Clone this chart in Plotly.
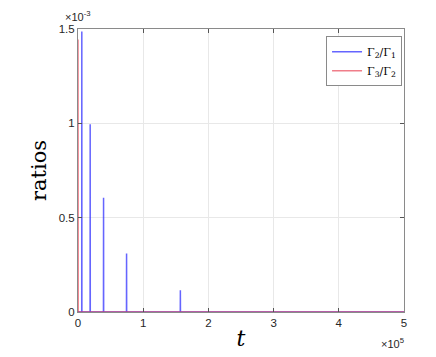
import plotly.graph_objects as go

# Gamma2/Gamma1 spikes (t, ratio)
t_g21 = [0, 5700, 5840, 5980, 18550, 18700, 18850, 39050, 39200, 39350,
         74350, 74500, 74650, 156850, 157000, 157150, 500000]
r_g21 = [0, 0, 1.487e-3, 0, 0, 0.995e-3, 0, 0, 0.605e-3, 0,
         0, 0.31e-3, 0, 0, 0.115e-3, 0, 0]

# Gamma3/Gamma2
t_g32 = [0, 300, 500000]
r_g32 = [1.444e-3, 0, 0]

x_ticks = [0, 1e5, 2e5, 3e5, 4e5, 5e5]
x_labels = ['0', '1', '2', '3', '4', '5']
y_ticks = [0, 0.5e-3, 1e-3, 1.5e-3]
y_labels = ['0', '0.5', '1', '1.5']

fig = go.Figure()
fig.add_trace(go.Scatter(x=t_g21, y=r_g21, mode='lines',
                         name='Γ<sub>2</sub>/Γ<sub>1</sub>',
                         line=dict(color='rgba(50,50,255,0.75)', width=1.5)))
fig.add_trace(go.Scatter(x=t_g32, y=r_g32, mode='lines',
                         name='Γ<sub>3</sub>/Γ<sub>2</sub>',
                         line=dict(color='rgba(230,40,60,0.6)', width=1.5)))

axis_common = dict(showline=True, linecolor='#8a8a8a', linewidth=1, mirror='allticks',
                   ticks='inside', ticklen=4, tickcolor='#555555',
                   showgrid=True, gridcolor='#e8e8e8', gridwidth=1,
                   zeroline=False, automargin=False,
                   tickfont=dict(family='Liberation Sans', size=11.5, color='#262626'))

# page body adds an 8px offset, so the figure is a bit smaller than the window
fig.update_layout(
    width=428, height=349,
    template='simple_white',
    plot_bgcolor='white', paper_bgcolor='white',
    margin=dict(l=70, r=32, t=21, b=45),
    showlegend=True,
    hovermode=False,
    legend=dict(x=0.994, y=0.974, xanchor='right', yanchor='top',
                bordercolor='#8a8a8a', borderwidth=1, bgcolor='white',
                font=dict(family='DejaVu Serif', size=11, color='black'),
                tracegroupgap=0, itemwidth=30),
    xaxis=dict(range=[0, 5e5], tickvals=x_ticks, ticktext=x_labels,
               title=dict(text='<i>t</i>', font=dict(family='DejaVu Serif', size=22, color='black'), standoff=2),
               **axis_common),
    yaxis=dict(range=[0, 1.5e-3], tickvals=y_ticks, ticktext=y_labels,
               title=dict(text='ratios', font=dict(family='DejaVu Serif', size=21, color='black'), standoff=6),
               **axis_common),
    annotations=[
        dict(text='×10<sup>-3</sup>', xref='paper', yref='paper', x=0.0, y=1.0,
             xanchor='left', yanchor='bottom', showarrow=False, xshift=-15, yshift=4,
             font=dict(family='Liberation Sans', size=11, color='#262626')),
        dict(text='×10<sup>5</sup>', xref='paper', yref='paper', x=1.0, y=0.0,
             xanchor='right', yanchor='top', showarrow=False, xshift=2, yshift=-22,
             font=dict(family='Liberation Sans', size=11, color='#262626')),
    ],
)

fig.write_html("out.html")
